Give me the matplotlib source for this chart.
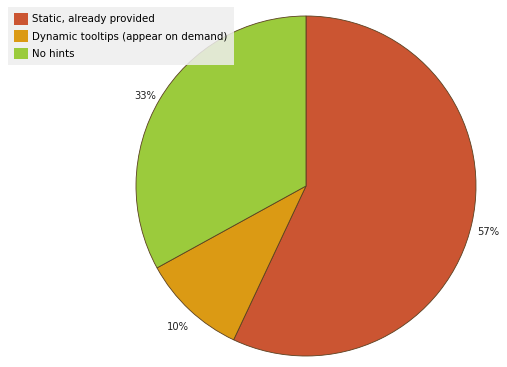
import matplotlib
matplotlib.use("Agg")
import matplotlib.pyplot as plt

# --- DATA ---
labels = ["Static, already provided", "Dynamic tooltips (appear on demand)", "No hints"]
values = [57, 10, 33]
colors = ["#CB5532", "#DB9A14", "#9BCB3C"]

W, H = 507, 367
fig = plt.figure(figsize=(W / 100, H / 100), dpi=100)

# pie centre (306, 186) px, radius 170 px
cx, cy, r = 306, 186, 170
ax = fig.add_axes([(cx - r) / W, (H - cy - r) / H, 2 * r / W, 2 * r / H])

wedges, texts, autotexts = ax.pie(
    values, colors=colors, startangle=90, counterclock=False,
    autopct="%d%%", pctdistance=1.1,
    wedgeprops=dict(edgecolor="#5a4020", linewidth=0.6),
    textprops=dict(fontsize=7.2, color="#222222", va="top"),
)
ax.set_xlim(-1, 1)
ax.set_ylim(-1, 1)
ax.set_aspect("equal")

leg = fig.legend(
    wedges, labels, loc="upper left", bbox_to_anchor=(8 / W, 1 - 7 / H),
    fontsize=7.4, frameon=True, fancybox=False, handlelength=1.35,
    handleheight=1.35, handletextpad=0.4, borderpad=0.6, labelspacing=0.55,
    borderaxespad=0,
)
leg.get_frame().set_facecolor("#EEEEEE")
leg.get_frame().set_edgecolor("none")
leg.get_frame().set_alpha(0.85)
for h in leg.legend_handles:
    h.set_edgecolor("none")

fig.savefig("out.png", dpi=100)
